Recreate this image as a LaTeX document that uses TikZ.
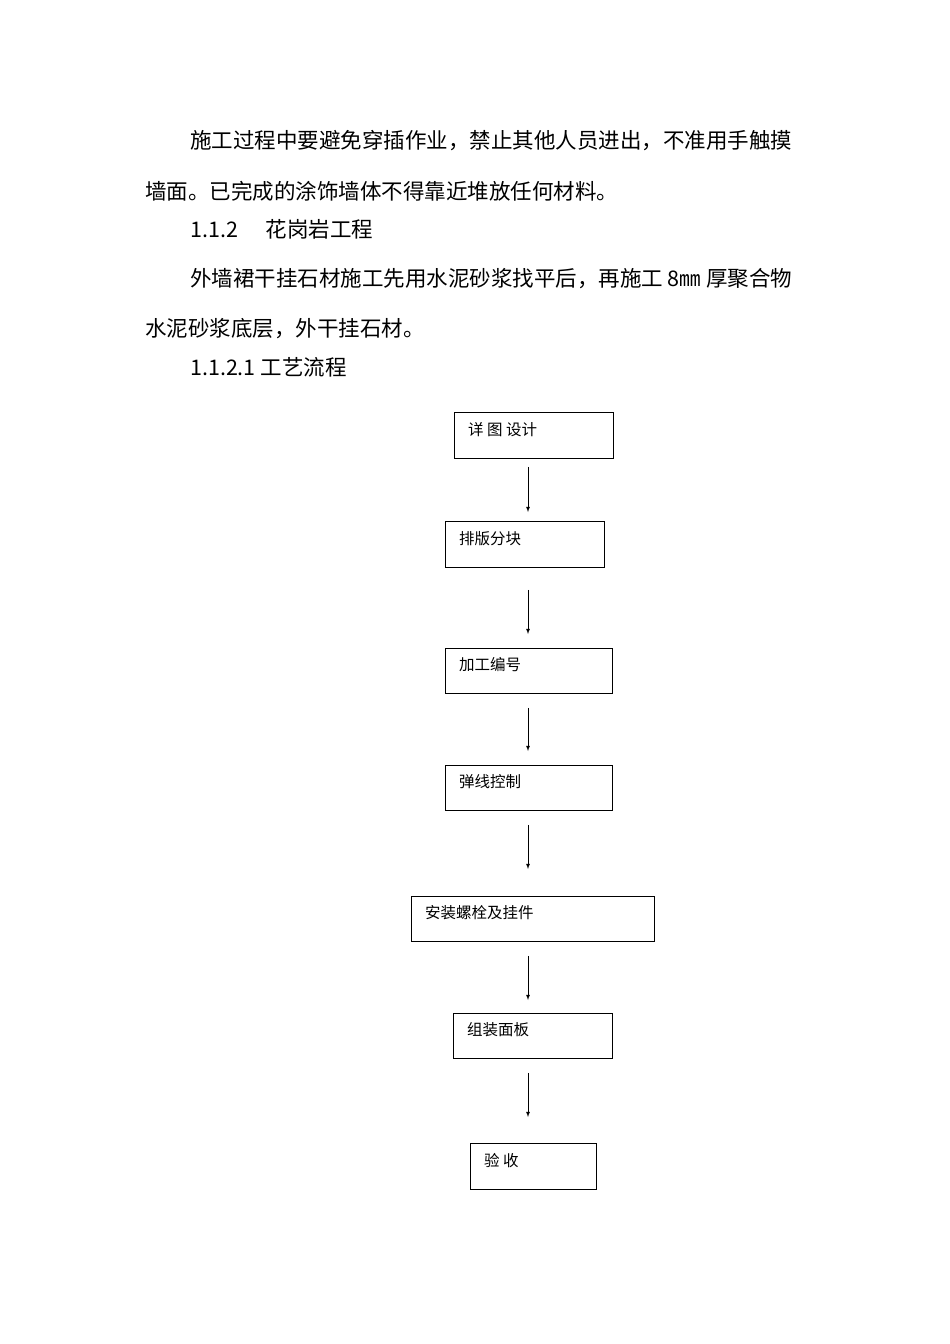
\documentclass[tikz,border=0pt]{standalone}
\usepackage{fontspec}
\setmainfont{Liberation Serif}
\newfontfamily\cjk{Noto Sans CJK SC}
\begin{document}
\begin{tikzpicture}[x=1pt,y=-1pt,
  body/.style={anchor=west,inner sep=0pt,font=\cjk\fontsize{21.5}{22}\selectfont},
  box/.style={draw,line width=0.9pt,anchor=north west,inner sep=0pt},
  lbl/.style={anchor=west,inner sep=0pt,font=\cjk\fontsize{15.5}{16}\selectfont},
  arr/.style={-latex,line width=0.8pt,shorten <=8pt,shorten >=9pt}]
\useasboundingbox[fill=white] (0,0) rectangle (950,1344);
\node[body] (p1) at (190,141) {施工过程中要避免穿插作业，禁止其他人员进出，不准用手触摸};
\node[body] (p2) at (145,191) {墙面。已完成的涂饰墙体不得靠近堆放任何材料。};
\node[body] (p3) at (190,229) {1.1.2\hspace{28pt}花岗岩工程};
\node[body] (p4) at (190,279) {外墙裙干挂石材施工先用水泥砂浆找平后，再施工 8㎜ 厚聚合物};
\node[body] (p5) at (145,329) {水泥砂浆底层，外干挂石材。};
\node[body] (p6) at (190,367) {1.1.2.1 工艺流程};
\node[box,minimum width=159pt,minimum height=46pt] (b1) at (454,412) {};
\node[lbl] at (468,430) {详 图 设计};
\node[box,minimum width=159pt,minimum height=46pt] (b2) at (445,521) {};
\node[lbl] at (459,539) {排版分块};
\node[box,minimum width=167pt,minimum height=45pt] (b3) at (445,648) {};
\node[lbl] at (459,665) {加工编号};
\node[box,minimum width=167pt,minimum height=45pt] (b4) at (445,765) {};
\node[lbl] at (459,782) {弹线控制};
\node[box,minimum width=243pt,minimum height=45pt] (b5) at (411,896) {};
\node[lbl] at (425,913) {安装螺栓及挂件};
\node[box,minimum width=159pt,minimum height=45pt] (b6) at (453,1013) {};
\node[lbl] at (467,1030) {组装面板};
\node[box,minimum width=126pt,minimum height=46pt] (b7) at (470,1143) {};
\node[lbl] at (484,1161) {验 收};
\coordinate (ax) at (528,0);
\draw[arr] (b1.south -| ax) -- (b2.north -| ax);
\draw[arr,shorten <=22pt,shorten >=14pt] (b2.south -| ax) -- (b3.north -| ax);
\draw[arr,shorten <=14pt,shorten >=14pt] (b3.south -| ax) -- (b4.north -| ax);
\draw[arr,shorten <=14pt,shorten >=27pt] (b4.south -| ax) -- (b5.north -| ax);
\draw[arr,shorten <=14pt,shorten >=13pt] (b5.south -| ax) -- (b6.north -| ax);
\draw[arr,shorten <=14pt,shorten >=26pt] (b6.south -| ax) -- (b7.north -| ax);
\end{tikzpicture}
\end{document}
